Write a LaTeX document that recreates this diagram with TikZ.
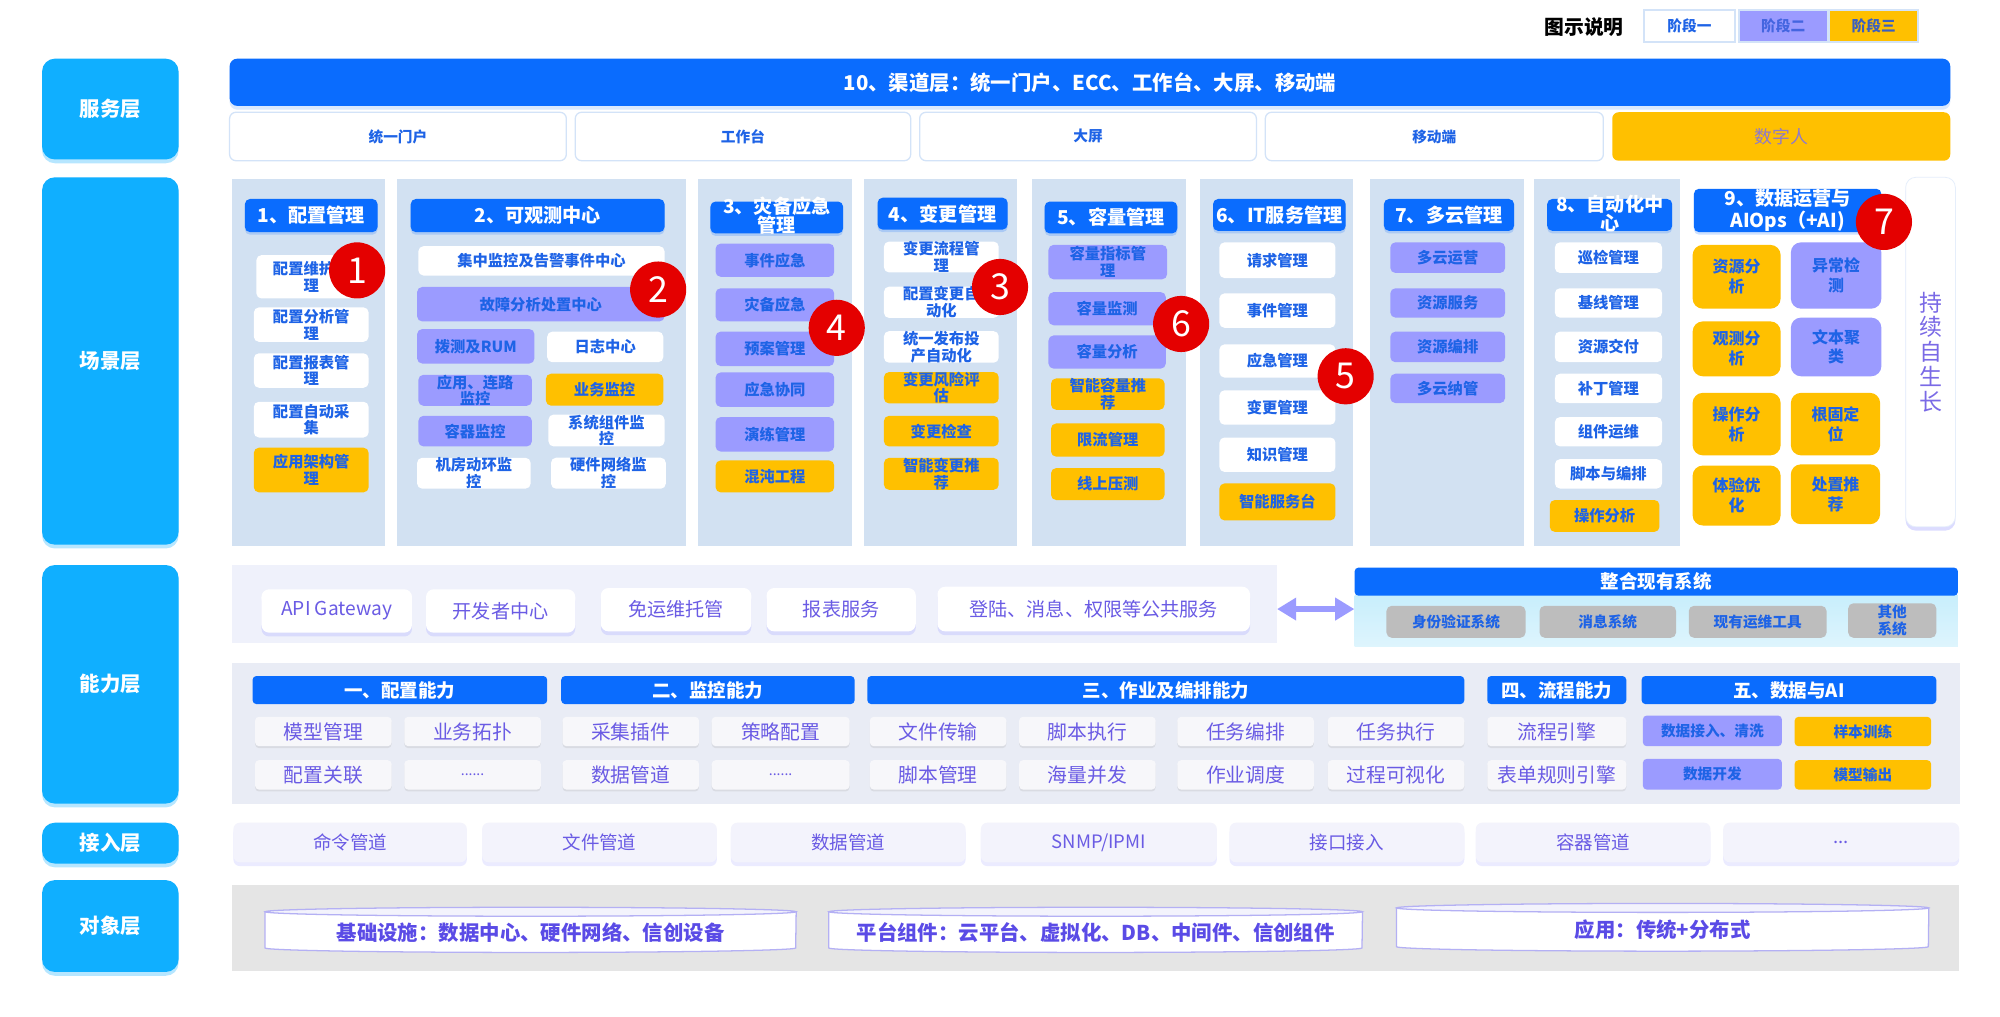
\documentclass[tikz,border=0pt]{standalone}
\usepackage{fontspec}
\setmainfont{Noto Sans CJK SC}
\usetikzlibrary{arrows.meta,shadows}
\definecolor{hdr}{HTML}{0A6CFE}
\definecolor{layc}{HTML}{10AFFF}
\definecolor{scbg}{HTML}{D2E1F2}
\definecolor{lav}{HTML}{9B9BFF}
\definecolor{org}{HTML}{FFC000}
\definecolor{tblue}{HTML}{1E63E6}
\definecolor{tpur}{HTML}{6A5BE4}
\definecolor{bord}{HTML}{D3E3F8}
\definecolor{dpur}{HTML}{8E79CC}
\definecolor{lgtxtb}{HTML}{4465E0}
\definecolor{lgtxtc}{HTML}{3A5FC0}
\definecolor{gboxc}{HTML}{BDBDBD}
\definecolor{capbg}{HTML}{E9ECF5}
\definecolor{trowc}{HTML}{EFF1FB}
\definecolor{itgc}{HTML}{C8EEFC}
\definecolor{accc}{HTML}{F3F3FC}
\definecolor{objc}{HTML}{E5E5E5}
\definecolor{citc}{HTML}{F7F7FA}
\definecolor{badgec}{HTML}{E40000}
\definecolor{growc}{HTML}{7A6AE6}
\definecolor{objt}{HTML}{5A4BE6}
\definecolor{dline}{HTML}{B4B0F4}
\newcommand\myfs[2]{\fontsize{#1}{#2}\selectfont}
\newcommand\mybox[7]{%
  \pgfmathsetmacro\mbw{#5-#3}%
  \pgfmathsetmacro\mbh{#6-#4}%
  \node[#1,minimum width=\mbw pt,minimum height=\mbh pt] (#2) at ({(#3+#5)/2},{(#4+#6)/2}) {#7};%
}
\newcommand\mydisk[6]{%
  \pgfmathsetmacro\mbw{#4-#2}%
  \pgfmathsetmacro\mbh{#5-#3}%
  \pgfmathsetmacro\mbr{(#4-#2)/2}%
  \node[xdisk,minimum width=\mbw pt,minimum height=\mbh pt] (#1) at ({(#2+#4)/2},{(#3+#5)/2}) {};%
  \filldraw[xdline] (#1.north west) -- (#1.south west) arc[start angle=180,end angle=0,x radius=\mbr,y radius=3.5] -- (#1.north east) -- cycle;%
  \filldraw[xdtop] (#1.north) ellipse[x radius=\mbr, y radius=3.5];%
  \node[xdtxt] (#1t) at ([yshift=-2pt]#1.center) {#6};%
}
\tikzset{
  xlay/.style={fill=layc, rounded corners=10pt, text=white, font=\bfseries\myfs{16}{18}, inner sep=0pt,
    drop shadow={shadow xshift=0pt, shadow yshift=-3pt, fill=layc, opacity=0.3}},
  xbar/.style={fill=hdr, rounded corners=6pt, text=white, font=\bfseries\myfs{16}{18}, inner sep=0pt,
    drop shadow={shadow xshift=0pt, shadow yshift=-3pt, fill=hdr, opacity=0.15}},
  xsvc/.style={fill=white, draw=bord, line width=1pt, rounded corners=5pt, text=tblue, font=\bfseries\myfs{11.5}{13}, inner sep=0pt},
  xsvcd/.style={fill=org, rounded corners=5pt, text=dpur, font=\myfs{14}{16}, inner sep=0pt},
  xlgw/.style={fill=white, draw=bord, line width=1.5pt, text=tblue, font=\bfseries\myfs{11.5}{13}, inner sep=0pt},
  xlgl/.style={xlgw, fill=lav, text=lgtxtb},
  xlgo/.style={xlgw, fill=org, text=lgtxtc},
  xcol/.style={fill=scbg, inner sep=0pt},
  xhdr/.style={fill=hdr, rounded corners=4pt, text=white, font=\bfseries\myfs{15}{17}, align=center, inner sep=0pt,
    drop shadow={shadow xshift=0pt, shadow yshift=-2pt, fill=hdr, opacity=0.2}},
  xhdrt/.style={text=white, font=\bfseries\myfs{15}{15}, align=center, inner sep=0pt},
  xitw/.style={fill=white, rounded corners=4pt, text=tblue, font=\bfseries\myfs{12}{13}, align=center, inner xsep=1pt, inner ysep=0pt},
  xitl/.style={xitw, fill=lav},
  xito/.style={xitw, fill=org},
  xitno/.style={xitw, fill=org, rounded corners=8pt, font=\bfseries\myfs{12.5}{15.5}},
  xitnl/.style={xitw, fill=lav, rounded corners=8pt, font=\bfseries\myfs{12.5}{15.5}},
  xgrow/.style={fill=white, draw=bord!60, line width=0.6pt, rounded corners=8pt, text=growc, font=\myfs{18}{19.5}, align=center, inner sep=0pt,
    drop shadow={shadow xshift=0pt, shadow yshift=-3pt, fill=lav, opacity=0.35}},
  xbdg/.style={circle, fill=badgec, text=white, minimum size=44pt, inner sep=0pt, font=\myfs{28}{28}},
  xtrow/.style={fill=trowc, inner sep=0pt},
  xtbox/.style={fill=white, rounded corners=6pt, text=tpur, font=\myfs{15}{16}, inner sep=0pt,
    drop shadow={shadow xshift=0pt, shadow yshift=-3pt, fill=lav, opacity=0.25}},
  xihdr/.style={fill=hdr, rounded corners=3pt, text=white, font=\bfseries\myfs{14.5}{16}, inner sep=0pt},
  xibg/.style={top color=itgc, bottom color=itgc!60, inner sep=0pt},
  xgb/.style={fill=gboxc, rounded corners=4pt, text=tblue, font=\bfseries\myfs{11.5}{13}, align=center, inner sep=0pt},
  xcbg/.style={fill=capbg, inner sep=0pt},
  xchdr/.style={fill=hdr, rounded corners=3pt, text=white, font=\bfseries\myfs{14.5}{16}, inner sep=0pt},
  xci/.style={fill=citc, rounded corners=3pt, text=tpur, font=\myfs{15.5}{16}, inner sep=0pt,
    drop shadow={shadow xshift=0pt, shadow yshift=-1.5pt, fill=black!40, opacity=0.2}},
  xcil/.style={fill=lav, rounded corners=3pt, text=tblue, font=\bfseries\myfs{11.5}{13}, inner sep=0pt},
  xcio/.style={fill=org, rounded corners=3pt, text=tblue, font=\bfseries\myfs{11.5}{13}, inner sep=0pt},
  xacc/.style={fill=accc, rounded corners=5pt, text=tpur, font=\myfs{14.5}{16}, inner sep=0pt,
    drop shadow={shadow xshift=0pt, shadow yshift=-3pt, fill=lav, opacity=0.2}},
  xobg/.style={fill=objc, inner sep=0pt},
  xdisk/.style={inner sep=0pt},
  xdline/.style={fill=white, draw=dline, line width=1pt},
  xdtop/.style={fill=accc, draw=dline, line width=1pt},
  xdtxt/.style={text=objt, font=\bfseries\myfs{16}{18}, inner sep=0pt},
  xarr/.style={draw=lav, line width=5pt, {Triangle[width=17pt,length=15pt]}-{Triangle[width=17pt,length=15pt]}},
}
\begin{document}
\begin{tikzpicture}[x=1pt,y=-1pt]
\useasboundingbox (0,0) rectangle (1568,797);
\fill[white] (0,0) rectangle (1568,797);

% legend
\node[font=\bfseries\myfs{15.5}{16}, inner sep=0pt] (lgt) at (1242,21) {图示说明};
\mybox{xlgw}{lgA}{1289}{8}{1360}{33}{阶段一}
\mybox{xlgl}{lgB}{1363}{8}{1433}{33}{阶段二}
\mybox{xlgo}{lgC}{1434}{8}{1504}{33}{阶段三}

% layer labels
\mybox{xlay}{Lsvc}{33}{46}{140}{125}{服务层}
\mybox{xlay}{Lscn}{33}{139}{140}{427}{场景层}
\mybox{xlay}{Lcap}{33}{443}{140}{630}{能力层}
\mybox{xlay}{Lacc}{33}{645}{140}{677}{接入层}
\mybox{xlay}{Lobj}{33}{690}{140}{762}{对象层}

% service layer
\mybox{xbar}{chan}{180}{46}{1529}{83}{10、渠道层：统一门户、ECC、工作台、大屏、移动端}
\mybox{xsvc}{p1}{180}{88}{444}{126}{统一门户}
\mybox{xsvc}{p2}{451}{88}{714}{126}{工作台}
\mybox{xsvc}{p3}{721}{88}{985}{126}{大屏}
\mybox{xsvc}{p4}{992}{88}{1257}{126}{移动端}
\mybox{xsvcd}{p5}{1264}{88}{1529}{126}{数字人}

% scene columns
\mybox{xcol}{c1}{182}{140}{302}{428}{}
\mybox{xcol}{c2}{311}{140}{538}{428}{}
\mybox{xcol}{c3}{547}{140}{668}{428}{}
\mybox{xcol}{c4}{677}{140}{797}{428}{}
\mybox{xcol}{c5}{809}{140}{930}{428}{}
\mybox{xcol}{c6}{941}{140}{1061}{428}{}
\mybox{xcol}{c7}{1074}{140}{1195}{428}{}
\mybox{xcol}{c8}{1203}{140}{1317}{428}{}

% scene headers
\mybox{xhdr}{h1}{192}{156}{296}{182}{1、配置管理}
\mybox{xhdr}{h2}{322}{156}{521}{182}{2、可观测中心}
\mybox{xhdr}{h3}{557}{158}{661}{183}{}
\node[xhdrt] (h3t) at ([yshift=1.5pt]h3.center) {3、灾备应急\\管理};
\mybox{xhdr}{h4}{688}{155}{790}{180}{4、变更管理}
\mybox{xhdr}{h5}{819}{158}{923}{183}{5、容量管理}
\mybox{xhdr}{h6}{951}{156}{1055}{181}{6、IT服务管理}
\mybox{xhdr}{h7}{1085}{156}{1187}{181}{7、多云管理}
\mybox{xhdr}{h8}{1213}{156}{1311}{181}{}
\node[xhdrt] (h8t) at ([yshift=1pt]h8.center) {8、自动化中\\心};
\mybox{xhdr}{h9}{1328}{148}{1475}{182}{9、数据运营与\\AIOps（+AI)}

% col1
\mybox{xitw}{i11}{201}{200}{287}{234}{配置维护管\\理}
\mybox{xitw}{i12}{199}{241}{289}{268}{配置分析管\\理}
\mybox{xitw}{i13}{199}{277}{289}{304}{配置报表管\\理}
\mybox{xitw}{i14}{199}{315}{289}{343}{配置自动采\\集}
\mybox{xito}{i15}{199}{351}{289}{386}{应用架构管\\理}
% col2
\mybox{xitw}{i21}{328}{193}{521}{216}{集中监控及告警事件中心}
\mybox{xitl}{i22}{327}{225}{521}{252}{故障分析处置中心}
\mybox{xitl}{i23}{327}{258}{419}{285}{拨测及RUM}
\mybox{xitw}{i24}{429}{260}{520}{284}{日志中心}
\mybox{xitl}{i25}{328}{294}{417}{318}{应用、连路\\监控}
\mybox{xito}{i26}{428}{293}{520}{318}{业务监控}
\mybox{xitl}{i27}{328}{326}{417}{350}{容器监控}
\mybox{xitw}{i28}{430}{325}{521}{350}{系统组件监\\控}
\mybox{xitw}{i29}{327}{359}{416}{383}{机房动环监\\控}
\mybox{xitw}{i2a}{432}{359}{522}{383}{硬件网络监\\控}
% col3
\mybox{xitl}{i31}{561}{191}{654}{217}{事件应急}
\mybox{xitl}{i32}{561}{226}{654}{252}{灾备应急}
\mybox{xitl}{i33}{561}{260}{654}{287}{预案管理}
\mybox{xitl}{i34}{561}{292}{654}{319}{应急协同}
\mybox{xitl}{i35}{561}{327}{654}{354}{演练管理}
\mybox{xito}{i36}{561}{361}{654}{386}{混沌工程}
% col4
\mybox{xitw}{i41}{693}{190}{783}{213}{变更流程管\\理}
\mybox{xitw}{i42}{693}{225}{783}{249}{配置变更自\\动化}
\mybox{xitw}{i43}{693}{260}{783}{284}{统一发布投\\产自动化}
\mybox{xito}{i44}{693}{292}{783}{316}{变更风险评\\估}
\mybox{xito}{i45}{693}{326}{783}{350}{变更检查}
\mybox{xito}{i46}{693}{359}{783}{384}{智能变更推\\荐}
% col5
\mybox{xitl}{i51}{822}{192}{915}{219}{容量指标管\\理}
\mybox{xitl}{i52}{822}{229}{914}{255}{容量监测}
\mybox{xitl}{i53}{822}{263}{914}{289}{容量分析}
\mybox{xito}{i54}{824}{297}{913}{321}{智能容量推\\荐}
\mybox{xito}{i55}{824}{332}{913}{358}{限流管理}
\mybox{xito}{i56}{824}{367}{913}{392}{线上压测}
% col6
\mybox{xitw}{i61}{956}{190}{1047}{218}{请求管理}
\mybox{xitw}{i62}{956}{230}{1047}{257}{事件管理}
\mybox{xitw}{i63}{956}{270}{1047}{296}{应急管理}
\mybox{xitw}{i64}{956}{306}{1047}{333}{变更管理}
\mybox{xitw}{i65}{956}{343}{1047}{370}{知识管理}
\mybox{xito}{i66}{956}{379}{1047}{408}{智能服务台}
% col7
\mybox{xitl}{i71}{1090}{190}{1180}{214}{多云运营}
\mybox{xitl}{i72}{1090}{226}{1180}{249}{资源服务}
\mybox{xitl}{i73}{1090}{260}{1180}{284}{资源编排}
\mybox{xitl}{i74}{1090}{293}{1180}{316}{多云纳管}
% col8
\mybox{xitw}{i81}{1219}{190}{1303}{214}{巡检管理}
\mybox{xitw}{i82}{1219}{226}{1303}{249}{基线管理}
\mybox{xitw}{i83}{1219}{260}{1303}{284}{资源交付}
\mybox{xitw}{i84}{1219}{293}{1303}{316}{补丁管理}
\mybox{xitw}{i85}{1219}{327}{1303}{350}{组件运维}
\mybox{xitw}{i86}{1219}{360}{1303}{383}{脚本与编排}
\mybox{xito}{i87}{1215}{392}{1301}{417}{操作分析}
% col9
\mybox{xitno}{i91}{1327}{192}{1396}{242}{资源分\\析}
\mybox{xitnl}{i92}{1404}{190}{1475}{242}{异常检\\测}
\mybox{xitno}{i93}{1327}{252}{1396}{295}{观测分\\析}
\mybox{xitnl}{i94}{1404}{249}{1475}{295}{文本聚\\类}
\mybox{xitno}{i95}{1327}{308}{1396}{357}{操作分\\析}
\mybox{xitno}{i96}{1404}{308}{1474}{357}{根固定\\位}
\mybox{xitno}{i97}{1327}{365}{1396}{412}{体验优\\化}
\mybox{xitno}{i98}{1404}{364}{1474}{411}{处置推\\荐}
\mybox{xgrow}{sg}{1494}{139}{1533}{413}{持\\续\\自\\生\\长}

% badges
\node[xbdg] (b1) at (280,212) {1};
\node[xbdg] (b2) at (516,227) {2};
\node[xbdg] (b3) at (784,225) {3};
\node[xbdg] (b4) at (656,257) {4};
\node[xbdg] (b5) at (1055,295) {5};
\node[xbdg] (b6) at (926,254) {6};
\node[xbdg] (b7) at (1477,174) {7};

% capability: top row
\mybox{xtrow}{tr}{182}{443}{1001}{504}{}
\mybox{xtbox}{t1}{205}{462}{323}{496}{API Gateway}
\mybox{xtbox}{t2}{334}{462}{451}{496}{开发者中心}
\mybox{xtbox}{t3}{471}{461}{589}{495}{免运维托管}
\mybox{xtbox}{t4}{601}{461}{718}{495}{报表服务}
\mybox{xtbox}{t5}{735}{460}{980}{495}{登陆、消息、权限等公共服务}
% integration
\mybox{xibg}{ib}{1062}{467}{1535}{507}{}
\mybox{xihdr}{ih}{1062}{445}{1535}{467}{整合现有系统}
\mybox{xgb}{g1}{1087}{475}{1196}{500}{身份验证系统}
\mybox{xgb}{g2}{1207}{475}{1314}{500}{消息系统}
\mybox{xgb}{g3}{1324}{475}{1432}{500}{现有运维工具}
\mybox{xgb}{g4}{1449}{473}{1518}{500}{其他\\系统}
\draw[xarr] (tr.east |- t5) -- (ib.west |- t5);

% capability: bottom block
\mybox{xcbg}{cb}{182}{520}{1537}{630}{}
\mybox{xchdr}{k1}{198}{530}{429}{552}{一、配置能力}
\mybox{xchdr}{k2}{440}{530}{670}{552}{二、监控能力}
\mybox{xchdr}{k3}{680}{530}{1148}{552}{三、作业及编排能力}
\mybox{xchdr}{k4}{1166}{530}{1275}{552}{四、流程能力}
\mybox{xchdr}{k5}{1287}{530}{1518}{552}{五、数据与AI}
\mybox{xci}{r11}{200}{562}{307}{585}{模型管理}
\mybox{xci}{r12}{317}{562}{424}{585}{业务拓扑}
\mybox{xci}{r13}{441}{562}{548}{585}{采集插件}
\mybox{xci}{r14}{558}{562}{666}{585}{策略配置}
\mybox{xci}{r15}{682}{562}{789}{585}{文件传输}
\mybox{xci}{r16}{799}{562}{906}{585}{脚本执行}
\mybox{xci}{r17}{923}{562}{1030}{585}{任务编排}
\mybox{xci}{r18}{1041}{562}{1148}{585}{任务执行}
\mybox{xci}{r19}{1166}{562}{1275}{585}{流程引擎}
\mybox{xcil}{r1a}{1288}{561}{1397}{585}{数据接入、清洗}
\mybox{xcio}{r1b}{1407}{562}{1514}{585}{样本训练}
\mybox{xci}{r21}{200}{596}{307}{619}{配置关联}
\mybox{xci}{r22}{317}{596}{424}{619}{\myfs{11}{12}......}
\mybox{xci}{r23}{441}{596}{548}{619}{数据管道}
\mybox{xci}{r24}{558}{596}{666}{619}{\myfs{11}{12}......}
\mybox{xci}{r25}{682}{596}{789}{619}{脚本管理}
\mybox{xci}{r26}{799}{596}{906}{619}{海量并发}
\mybox{xci}{r27}{923}{596}{1030}{619}{作业调度}
\mybox{xci}{r28}{1041}{596}{1148}{619}{过程可视化}
\mybox{xci}{r29}{1166}{596}{1275}{619}{表单规则引擎}
\mybox{xcil}{r2a}{1288}{595}{1397}{619}{数据开发}
\mybox{xcio}{r2b}{1407}{596}{1514}{619}{模型输出}

% access layer
\mybox{xacc}{a1}{183}{645}{366}{676}{命令管道}
\mybox{xacc}{a2}{378}{645}{562}{676}{文件管道}
\mybox{xacc}{a3}{573}{645}{757}{676}{数据管道}
\mybox{xacc}{a4}{769}{645}{954}{676}{SNMP/IPMI}
\mybox{xacc}{a5}{964}{645}{1148}{676}{接口接入}
\mybox{xacc}{a6}{1157}{645}{1341}{676}{容器管道}
\mybox{xacc}{a7}{1351}{645}{1536}{676}{...}

% object layer
\mybox{xobg}{ob}{182}{694}{1536}{761}{}
\mydisk{d1}{208}{715}{624}{743}{基础设施：数据中心、硬件网络、信创设备}
\mydisk{d2}{650}{715}{1068}{743}{平台组件：云平台、虚拟化、DB、中间件、信创组件}
\mydisk{d3}{1095}{712}{1512}{742}{应用：传统+分布式}
\end{tikzpicture}
\end{document}
